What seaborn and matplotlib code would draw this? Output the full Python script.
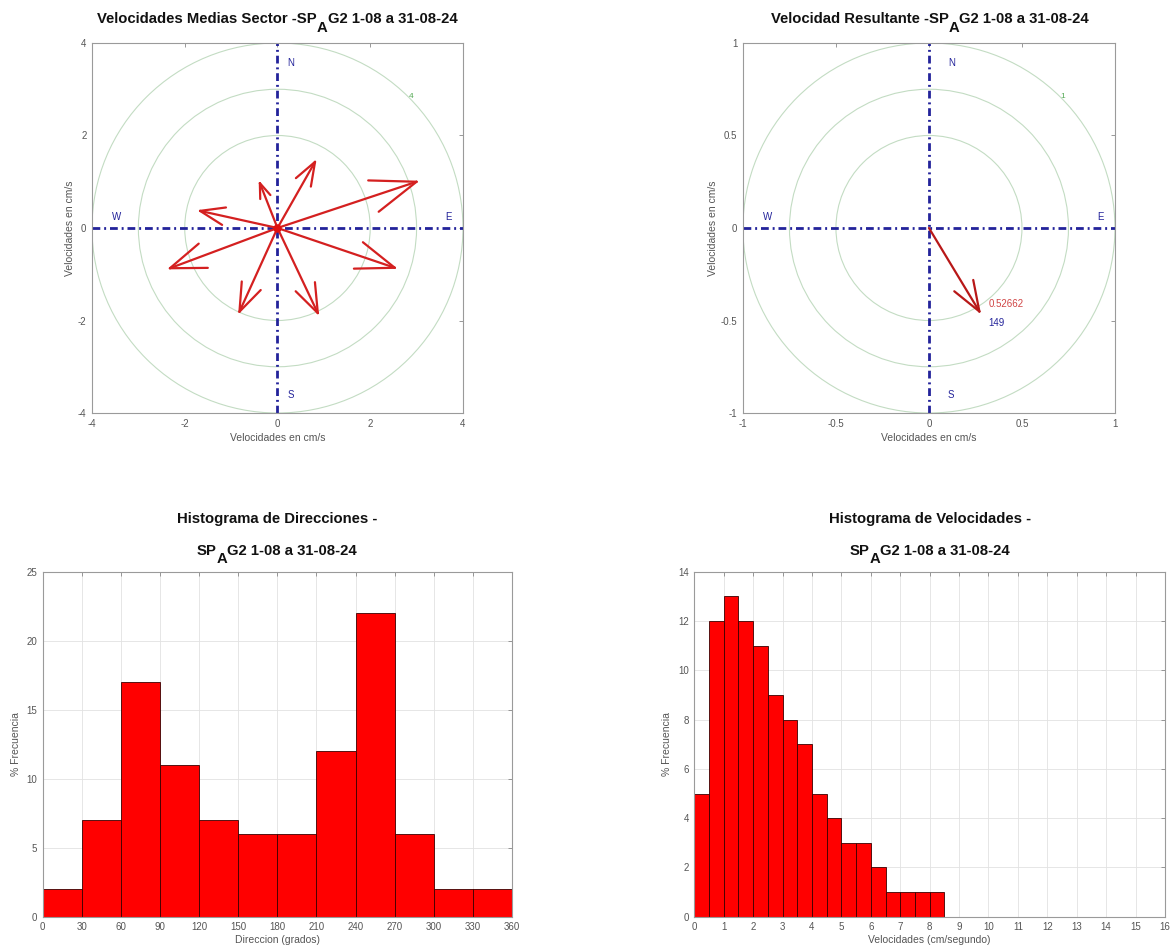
import numpy as np
import pandas as pd
import matplotlib
matplotlib.use('Agg')
import matplotlib.pyplot as plt
import seaborn as sns

# Mean velocity per sector (east / north components, cm/s)
sector_u = [3.00, 0.81, -0.38, -1.67, -2.32, -0.82, 0.87, 2.53]
sector_v = [1.00, 1.43, 0.97, 0.37, -0.87, -1.81, -1.84, -0.86]

# Resultant velocity
resultant_speed = 0.52662
resultant_dir = 149  # degrees from north, clockwise

# Direction histogram (% frequency per 30 degree bin)
dir_bins = [0, 30, 60, 90, 120, 150, 180, 210, 240, 270, 300, 330]
dir_pct = [2, 7, 17, 11, 7, 6, 6, 12, 22, 6, 2, 2]

# Speed histogram (% frequency per 0.5 cm/s bin)
speed_bins = [0, 0.5, 1, 1.5, 2, 2.5, 3, 3.5, 4, 4.5, 5, 5.5, 6, 6.5, 7, 7.5, 8]
speed_pct = [5, 12, 13, 12, 11, 9, 8, 7, 5, 4, 3, 3, 2, 1, 1, 1, 1]

station = ('SP', 'A', 'G2 1-08 a 31-08-24')

sns.set_theme(style='white')
plt.rcParams['font.family'] = ['Liberation Sans', 'DejaVu Sans']

W, H = 1175, 949
tick_col = '#555555'
axis_blue = '#23239a'
ring_col = '#c3dcc3'
title_size = 10.7


def style_axes(ax):
    ax.tick_params(direction='in', top=True, right=True, length=3, width=0.6,
                   color='#888888', labelcolor=tick_col, labelsize=7, pad=4)
    for sp in ax.spines.values():
        sp.set_color('#9a9a9a')
        sp.set_linewidth(0.8)


def sub_title(fig, cx, base_y, before, sub, after, drop=9):
    # matlab-style title where the subscript letter is full size and dropped
    r = fig.canvas.get_renderer()
    texts, widths = [], []
    for s, dy in ((before, 0), (sub, drop), (after, 0)):
        t = fig.text(0, 1 - (base_y + dy) / H, s, fontsize=title_size, fontweight='bold',
                     ha='left', va='baseline', color='#111111')
        texts.append(t)
        widths.append(t.get_window_extent(renderer=r).width)
    x = cx - sum(widths) / 2
    for t, w in zip(texts, widths):
        t.set_x(x / W)
        x += w


def arrow(ax, x, y, color, lw):
    # shaft plus two open barbs, like matlab compass
    mag = np.hypot(x, y)
    ang = np.arctan2(y, x)
    ax.plot([0, x], [0, y], color=color, lw=lw, solid_capstyle='round')
    for s in (1, -1):
        a = ang + np.pi + s * np.radians(20)
        ax.plot([x, x + 0.33 * mag * np.cos(a)], [y, y + 0.33 * mag * np.sin(a)],
                color=color, lw=lw, solid_capstyle='round')


def compass_frame(ax, rmax, ticks, ring_text, n_off):
    for frac in (0.5, 0.75, 1.0):
        ax.add_patch(plt.Circle((0, 0), frac * rmax, fill=False, color=ring_col, lw=0.8))
    ax.text(0.72 * rmax, 0.71 * rmax, ring_text, color='#55aa55', fontsize=6,
            ha='center', va='center')
    for xs, ys in (([-rmax, rmax], [0, 0]), ([0, 0], [-rmax, rmax])):
        ax.plot(xs, ys, color=axis_blue, lw=2, dashes=(2.8, 1.4, 0.7, 1.4))
    ax.text(n_off * rmax, 0.89 * rmax, 'N', color=axis_blue, fontsize=7, ha='center', va='center')
    ax.text(n_off * rmax, -0.90 * rmax, 'S', color=axis_blue, fontsize=7, ha='center', va='center')
    ax.text(-0.87 * rmax, 0.06 * rmax, 'W', color=axis_blue, fontsize=7, ha='center', va='center')
    ax.text(0.92 * rmax, 0.06 * rmax, 'E', color=axis_blue, fontsize=7, ha='center', va='center')
    ax.set_xlim(-rmax, rmax)
    ax.set_ylim(-rmax, rmax)
    ax.set_xticks(ticks)
    ax.set_yticks(ticks)
    ax.set_xticklabels([f'{t:g}' for t in ticks])
    ax.set_yticklabels([f'{t:g}' for t in ticks])
    ax.set_xlabel('Velocidades en cm/s', fontsize=7.5, color=tick_col, labelpad=3)
    ax.set_ylabel('Velocidades en cm/s', fontsize=7.5, color=tick_col, labelpad=2)
    style_axes(ax)


fig = plt.figure(figsize=(W / 100, H / 100), dpi=100)
ax_tl = fig.add_axes([0.0783, 0.5648, 0.3157, 0.3899])
ax_tr = fig.add_axes([0.6323, 0.5648, 0.3166, 0.3899])
ax_bl = fig.add_axes([0.0363, 0.0340, 0.3994, 0.3635])
ax_br = fig.add_axes([0.5909, 0.0340, 0.4006, 0.3635])

# --- sector mean velocities
compass_frame(ax_tl, 4, [-4, -2, 0, 2, 4], '4', 0.07)
for u, v in zip(sector_u, sector_v):
    arrow(ax_tl, u, v, '#d42020', 1.6)
ax_tl.plot([0], [0], 'o', color='#e01010', ms=5)
sub_title(fig, 277.5, 23, 'Velocidades Medias Sector -' + station[0], station[1], station[2])

# --- resultant
compass_frame(ax_tr, 1, [-1, -0.5, 0, 0.5, 1], '1', 0.12)
ru = resultant_speed * np.sin(np.radians(resultant_dir))
rv = resultant_speed * np.cos(np.radians(resultant_dir))
arrow(ax_tr, ru, rv, '#b81818', 1.6)
ax_tr.text(ru + 0.05, rv + 0.04, f'{resultant_speed:g}', color='#d04545', fontsize=7,
           ha='left', va='center')
ax_tr.text(ru + 0.05, rv - 0.06, f'{resultant_dir}', color=axis_blue, fontsize=7,
           ha='left', va='center')
sub_title(fig, 930, 23, 'Velocidad Resultante -' + station[0], station[1], station[2])

# --- direction histogram
df_dir = pd.DataFrame({'mid': [b + 15 for b in dir_bins], 'pct': dir_pct})
sns.histplot(data=df_dir, x='mid', weights='pct', bins=list(range(0, 361, 30)),
             color='#ff0000', edgecolor='#3a0000', linewidth=0.6, alpha=1, ax=ax_bl)
ax_bl.set_xlim(0, 360)
ax_bl.set_ylim(0, 25)
ax_bl.set_xticks(np.arange(0, 361, 30))
ax_bl.set_yticks(np.arange(0, 26, 5))
ax_bl.set_xlabel('Direccion (grados)', fontsize=7.5, color=tick_col, labelpad=2)
ax_bl.set_ylabel('% Frecuencia', fontsize=7.5, color=tick_col, labelpad=4)
fig.text(277 / W, 1 - 523 / H, 'Histograma de Direcciones -', fontsize=title_size,
         fontweight='bold', ha='center', va='baseline', color='#111111')
sub_title(fig, 277, 555, station[0], station[1], station[2], drop=8)

# --- speed histogram
df_spd = pd.DataFrame({'mid': [b + 0.25 for b in speed_bins], 'pct': speed_pct})
sns.histplot(data=df_spd, x='mid', weights='pct', bins=list(np.arange(0, 8.51, 0.5)),
             color='#ff0000', edgecolor='#3a0000', linewidth=0.6, alpha=1, ax=ax_br)
ax_br.set_xlim(0, 16)
ax_br.set_ylim(0, 14)
ax_br.set_xticks(np.arange(0, 17, 1))
ax_br.set_yticks(np.arange(0, 15, 2))
ax_br.set_xlabel('Velocidades (cm/segundo)', fontsize=7.5, color=tick_col, labelpad=2)
ax_br.set_ylabel('% Frecuencia', fontsize=7.5, color=tick_col, labelpad=4)
fig.text(930 / W, 1 - 523 / H, 'Histograma de Velocidades -', fontsize=title_size,
         fontweight='bold', ha='center', va='baseline', color='#111111')
sub_title(fig, 930, 555, station[0], station[1], station[2], drop=8)

for ax in (ax_bl, ax_br):
    ax.grid(True, color='#e2e2e2', lw=0.6)
    ax.set_axisbelow(True)
    style_axes(ax)

fig.savefig('out.png', dpi=100, facecolor='white')
